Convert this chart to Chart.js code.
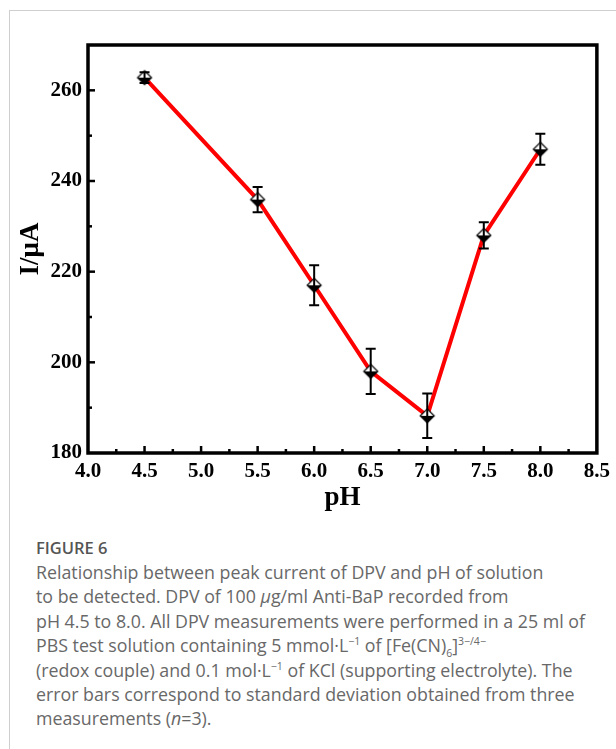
<!DOCTYPE html>
<html>
<head>
<meta charset="utf-8">
<script src="https://cdn.jsdelivr.net/npm/chart.js@4.4.0/dist/chart.umd.min.js"></script>
<style>
  html, body { margin: 0; padding: 0; background: #fff; }
  #page { position: relative; width: 616px; height: 749px; overflow: hidden; }
  #frame { position: absolute; left: 9px; top: 10px; width: 700px; height: 800px; border-left: 1px solid #cfcfcf; border-top: 1px solid #cfcfcf; }
  #chart-box { position: absolute; left: 0; top: 0; width: 616px; height: 520px; }
  #caption { position: absolute; left: 36px; top: 536px; font-family: "Open Sans", Lato, sans-serif; color: #686868; white-space: nowrap; }
  #caption .fig { font-size: 16.5px; font-weight: 600; color: #555; margin-bottom: 1px; }
  #caption .txt { font-size: 17.8px; line-height: 24.4px; }
  #caption sup, #caption sub { font-size: 10.5px; line-height: 0; }
</style>
</head>
<body>
<div id="page">
  <div id="frame"></div>
  <div id="chart-box"><canvas id="ph-chart" width="616" height="520"></canvas></div>
  <div id="caption">
    <div class="fig">FIGURE 6</div>
    <div class="txt">
      Relationship between peak current of DPV and pH of solution<br>
      to be detected. DPV of 100 <i>μ</i>g/ml Anti-BaP recorded from<br>
      pH 4.5 to 8.0. All DPV measurements were performed in a 25 ml of<br>
      PBS test solution containing 5 mmol·L<sup>−1</sup> of [Fe(CN)<sub>6</sub>]<sup>3−/4−</sup><br>
      (redox couple) and 0.1 mol·L<sup>−1</sup> of KCl (supporting electrolyte). The<br>
      error bars correspond to standard deviation obtained from three<br>
      measurements (<i>n</i>=3).
    </div>
  </div>
</div>
<script>
// Data
const phValues = [4.5, 5.5, 6.0, 6.5, 7.0, 7.5, 8.0];
const currentValues = [262.8, 235.9, 217.0, 198.0, 188.2, 228.0, 247.0];
const errorValues = [1.2, 2.8, 4.4, 5.0, 4.9, 2.9, 3.4];

// Axis settings
const xMin = 4.0, xMax = 8.5, xStep = 0.5;
const yMin = 180, yMax = 270, yStep = 20;
const serif = '"Liberation Serif", "Times New Roman", serif';
const tickFont = { family: serif, size: 21, weight: 'bold' };
const titleFont = { family: serif, size: 27, weight: 'bold' };

// Half-filled diamond marker (white top, black bottom)
function makeMarker() {
    const c = document.createElement('canvas');
    c.width = 18; c.height = 18;
    const g = c.getContext('2d');
    g.beginPath();
    g.moveTo(9, 2); g.lineTo(16, 9); g.lineTo(2, 9); g.closePath();
    g.fillStyle = '#fff'; g.fill();
    g.beginPath();
    g.moveTo(2, 9); g.lineTo(16, 9); g.lineTo(9, 16); g.closePath();
    g.fillStyle = '#000'; g.fill();
    g.beginPath();
    g.moveTo(9, 2); g.lineTo(16, 9); g.lineTo(9, 16); g.lineTo(2, 9); g.closePath();
    g.strokeStyle = '#000'; g.lineWidth = 1.2; g.stroke();
    return c;
}

// Error bars, drawn through the scales
const errorBarPlugin = {
    id: 'errorBars',
    afterDatasetsDraw(chart) {
        const { ctx, scales: { x, y } } = chart;
        ctx.save();
        ctx.strokeStyle = '#000';
        ctx.lineWidth = 2;
        phValues.forEach((ph, i) => {
            const px = x.getPixelForValue(ph);
            const top = y.getPixelForValue(currentValues[i] + errorValues[i]);
            const bot = y.getPixelForValue(currentValues[i] - errorValues[i]);
            ctx.beginPath();
            ctx.moveTo(px, top); ctx.lineTo(px, bot);
            ctx.moveTo(px - 5, top); ctx.lineTo(px + 5, top);
            ctx.moveTo(px - 5, bot); ctx.lineTo(px + 5, bot);
            ctx.stroke();
        });
        ctx.restore();
    }
};

// Boxed frame with inward major and minor ticks
const framePlugin = {
    id: 'frame',
    afterDraw(chart) {
        const { ctx, chartArea: a, scales: { x, y } } = chart;
        ctx.save();
        ctx.strokeStyle = '#000';
        ctx.lineWidth = 2.5;
        for (let v = xMin + xStep / 2; v < xMax; v += xStep / 2) {
            const px = x.getPixelForValue(v);
            const major = Math.abs(v / xStep - Math.round(v / xStep)) < 1e-6;
            ctx.beginPath();
            ctx.moveTo(px, a.bottom); ctx.lineTo(px, a.bottom - (major ? 7 : 4));
            ctx.stroke();
        }
        for (let v = yMin + yStep / 2; v < yMax; v += yStep / 2) {
            const py = y.getPixelForValue(v);
            const major = (v - yMin) % yStep === 0;
            ctx.beginPath();
            ctx.moveTo(a.left, py); ctx.lineTo(a.left + (major ? 7 : 4), py);
            ctx.stroke();
        }
        ctx.lineWidth = 3.5;
        ctx.strokeRect(a.left, a.top, a.right - a.left, a.bottom - a.top);
        ctx.restore();
    }
};

const ctx = document.getElementById('ph-chart').getContext('2d');
new Chart(ctx, {
    type: 'line',
    data: {
        datasets: [{
            data: phValues.map((ph, i) => ({ x: ph, y: currentValues[i] })),
            borderColor: '#ff0000',
            borderWidth: 4,
            pointStyle: makeMarker(),
            tension: 0
        }]
    },
    options: {
        responsive: false,
        animation: false,
        layout: { padding: { left: 0, top: 45, right: 18, bottom: 0 } },
        plugins: { legend: { display: false }, tooltip: { enabled: false } },
        scales: {
            x: {
                type: 'linear',
                min: xMin, max: xMax,
                afterFit: s => { s.height = 67; },
                grid: { display: false, drawTicks: false },
                border: { display: false },
                ticks: { stepSize: xStep, color: '#000', font: tickFont, padding: 6, maxRotation: 0, callback: v => v.toFixed(1) },
                title: { display: true, text: 'pH', color: '#000', padding: { top: 0, bottom: 6 }, font: titleFont }
            },
            y: {
                min: yMin, max: yMax,
                afterFit: s => { s.width = 88; },
                grid: { display: false, drawTicks: false },
                border: { display: false },
                ticks: { stepSize: yStep, color: '#000', font: tickFont, padding: 6,
                    callback: v => ((v - yMin) % yStep === 0 ? v : null) },
                title: { display: true, text: 'I/μA', color: '#000', padding: { top: 15, bottom: 0 }, font: titleFont }
            }
        }
    },
    plugins: [errorBarPlugin, framePlugin]
});
</script>
</body>
</html>
